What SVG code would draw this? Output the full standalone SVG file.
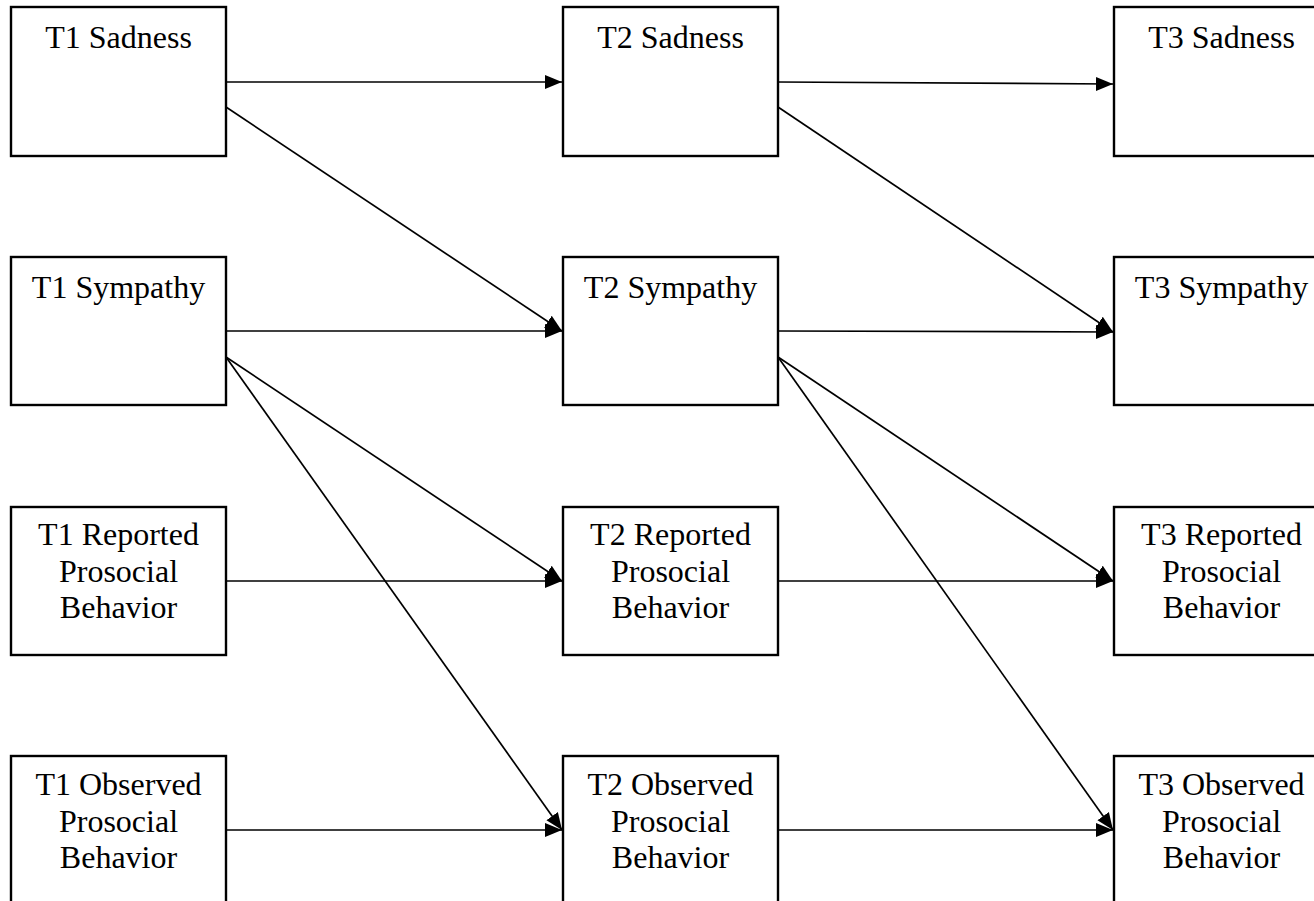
<svg xmlns="http://www.w3.org/2000/svg" width="1314" height="901" viewBox="0 0 1314 901">
  <style>
    .box { fill: #ffffff; stroke: #000000; stroke-width: 2.4; }
    .lbl { font-family: "Liberation Serif", "Times New Roman", serif; font-size: 32px; fill: #000000; text-anchor: middle; }
    .edge { stroke: #000000; stroke-width: 1.7; fill: none; marker-end: url(#head); }
  </style>
  <defs>
    <marker id="head" markerUnits="userSpaceOnUse" markerWidth="18" markerHeight="16" refX="17" refY="8" orient="auto">
      <path d="M0,1 L17,8 L0,15 z" fill="#000000"/>
    </marker>
  </defs>
  <rect width="1314" height="901" fill="#ffffff"/>

  <!-- Time 1 -->
  <g id="t1-sadness">
    <rect class="box" x="11" y="7" width="215" height="149"/>
    <text class="lbl" x="118.5" y="48">T1 Sadness</text>
  </g>
  <g id="t1-sympathy">
    <rect class="box" x="11" y="257" width="215" height="148"/>
    <text class="lbl" x="118.5" y="298">T1 Sympathy</text>
  </g>
  <g id="t1-reported">
    <rect class="box" x="11" y="507" width="215" height="148"/>
    <text class="lbl" x="118.5" y="545">T1 Reported</text>
    <text class="lbl" x="118.5" y="581.5">Prosocial</text>
    <text class="lbl" x="118.5" y="618">Behavior</text>
  </g>
  <g id="t1-observed">
    <rect class="box" x="11" y="756" width="215" height="160"/>
    <text class="lbl" x="118.5" y="795">T1 Observed</text>
    <text class="lbl" x="118.5" y="831.5">Prosocial</text>
    <text class="lbl" x="118.5" y="868">Behavior</text>
  </g>

  <!-- Time 2 -->
  <g id="t2-sadness">
    <rect class="box" x="563" y="7" width="215" height="149"/>
    <text class="lbl" x="670.5" y="48">T2 Sadness</text>
  </g>
  <g id="t2-sympathy">
    <rect class="box" x="563" y="257" width="215" height="148"/>
    <text class="lbl" x="670.5" y="298">T2 Sympathy</text>
  </g>
  <g id="t2-reported">
    <rect class="box" x="563" y="507" width="215" height="148"/>
    <text class="lbl" x="670.5" y="545">T2 Reported</text>
    <text class="lbl" x="670.5" y="581.5">Prosocial</text>
    <text class="lbl" x="670.5" y="618">Behavior</text>
  </g>
  <g id="t2-observed">
    <rect class="box" x="563" y="756" width="215" height="160"/>
    <text class="lbl" x="670.5" y="795">T2 Observed</text>
    <text class="lbl" x="670.5" y="831.5">Prosocial</text>
    <text class="lbl" x="670.5" y="868">Behavior</text>
  </g>

  <!-- Time 3 -->
  <g id="t3-sadness">
    <rect class="box" x="1114" y="7" width="215" height="149"/>
    <text class="lbl" x="1221.5" y="48">T3 Sadness</text>
  </g>
  <g id="t3-sympathy">
    <rect class="box" x="1114" y="257" width="215" height="148"/>
    <text class="lbl" x="1221.5" y="298">T3 Sympathy</text>
  </g>
  <g id="t3-reported">
    <rect class="box" x="1114" y="507" width="215" height="148"/>
    <text class="lbl" x="1221.5" y="545">T3 Reported</text>
    <text class="lbl" x="1221.5" y="581.5">Prosocial</text>
    <text class="lbl" x="1221.5" y="618">Behavior</text>
  </g>
  <g id="t3-observed">
    <rect class="box" x="1114" y="756" width="215" height="160"/>
    <text class="lbl" x="1221.5" y="795">T3 Observed</text>
    <text class="lbl" x="1221.5" y="831.5">Prosocial</text>
    <text class="lbl" x="1221.5" y="868">Behavior</text>
  </g>

  <!-- Paths -->
  <g id="connectors">
    <!-- stability paths -->
    <line class="edge" x1="226" y1="82" x2="562" y2="82"/>
    <line class="edge" x1="778" y1="82" x2="1113" y2="84"/>
    <line class="edge" x1="226" y1="331" x2="562" y2="331"/>
    <line class="edge" x1="778" y1="331" x2="1113" y2="332"/>
    <line class="edge" x1="226" y1="581" x2="562" y2="581"/>
    <line class="edge" x1="778" y1="581" x2="1113" y2="581"/>
    <line class="edge" x1="226" y1="830" x2="562" y2="830"/>
    <line class="edge" x1="778" y1="830" x2="1113" y2="830"/>
    <!-- cross-lagged paths -->
    <line class="edge" x1="226" y1="107" x2="562" y2="331"/>
    <line class="edge" x1="778" y1="107" x2="1113" y2="332"/>
    <line class="edge" x1="226" y1="357" x2="562" y2="581"/>
    <line class="edge" x1="226" y1="357" x2="562" y2="830"/>
    <line class="edge" x1="778" y1="357" x2="1113" y2="581"/>
    <line class="edge" x1="778" y1="357" x2="1113" y2="830"/>
  </g>
</svg>
